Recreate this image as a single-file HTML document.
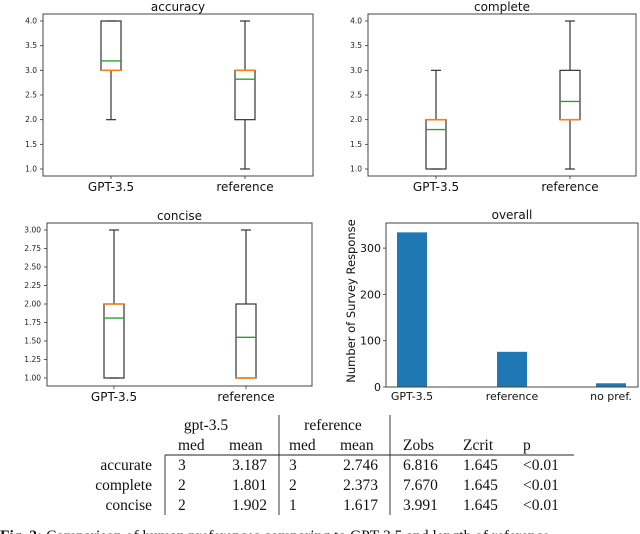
<!DOCTYPE html>
<html><head><meta charset="utf-8">
<style>
html,body{margin:0;padding:0;background:#fff;width:640px;height:534px;overflow:hidden}
svg{display:block}
.mpl{font-family:"DejaVu Sans","Liberation Sans",sans-serif}
.tx{font-family:"Liberation Serif","DejaVu Serif",serif;font-size:15.5px;fill:#111}
</style></head>
<body>
<svg id="fig" width="640" height="534" viewBox="0 0 640 534" xmlns="http://www.w3.org/2000/svg">
</svg>
<script>
// ---- Data ----
const boxCategories = ["GPT-3.5", "reference"];
const accuracyStats = [[2,3,3,4,4,3.19],[1,2,3,3,4,2.82]];   // [wlo,q1,median,q3,whi,mean]
const completeStats = [[1,1,2,2,3,1.80],[1,2,2,3,4,2.37]];
const conciseStats  = [[1,1,2,2,3,1.81],[1,1,1,2,3,1.55]];
const accTicks = [1.0,1.5,2.0,2.5,3.0,3.5,4.0];
const accTickLabels = ["1.0","1.5","2.0","2.5","3.0","3.5","4.0"];
const conTicks = [1.0,1.25,1.5,1.75,2.0,2.25,2.5,2.75,3.0];
const conTickLabels = ["1.00","1.25","1.50","1.75","2.00","2.25","2.50","2.75","3.00"];
const barCategories = ["GPT-3.5","reference","no pref."];
const barValues = [334, 76, 8];
const barTicks = [0,100,200,300];

const NS="http://www.w3.org/2000/svg";
const svg=document.getElementById('fig');
function mk(tag,attrs,parent,text){const e=document.createElementNS(NS,tag);for(const k in attrs)e.setAttribute(k,attrs[k]);if(text!==undefined)e.textContent=text;(parent||svg).appendChild(e);return e;}

function boxPanel(name,title,L,R,T,B,y0,y1,v0,v1,ticks,tickLabels,stats,centers,hw){
  const g=mk('g',{},svg);
  
  
  const y=v=>y0+(v-v0)/(v1-v0)*(y1-y0);
  const t=mk('text',{x:(L+R)/2,y:T-3,'text-anchor':'middle','font-size':'12',class:'mpl',fill:'#111'},g,title);
  
  
  ticks.forEach((v,i)=>{
    mk('line',{x1:L-3,x2:L,y1:y(v),y2:y(v),stroke:'#333','stroke-width':0.8},g);
    const tl=mk('text',{x:L-6,y:y(v)+2.5,'text-anchor':'end','font-size':'7.5',class:'mpl',fill:'#222'},g,tickLabels[i]);
    
    
  });
  stats.forEach((s,i)=>{
    const c=centers[i];
    const bg=mk('g',{},g);
    
    
    const cw=hw/2;
    mk('line',{x1:c,x2:c,y1:y(s[0]),y2:y(s[1]),stroke:'#333','stroke-width':1.2},bg);
    mk('line',{x1:c,x2:c,y1:y(s[3]),y2:y(s[4]),stroke:'#333','stroke-width':1.2},bg);
    mk('line',{x1:c-cw,x2:c+cw,y1:y(s[0]),y2:y(s[0]),stroke:'#333','stroke-width':1.2},bg);
    mk('line',{x1:c-cw,x2:c+cw,y1:y(s[4]),y2:y(s[4]),stroke:'#333','stroke-width':1.2},bg);
    mk('rect',{x:c-hw,y:y(s[3]),width:2*hw,height:Math.max(0.5,y(s[1])-y(s[3])),fill:'none',stroke:'#333','stroke-width':1.2},bg);
    const md=mk('line',{x1:c-hw,x2:c+hw,y1:y(s[2]),y2:y(s[2]),stroke:'#ff7f0e','stroke-width':1.6},bg);
    
    
    const mn=mk('line',{x1:c-hw,x2:c+hw,y1:y(s[5]),y2:y(s[5]),stroke:'#2ca02c','stroke-width':1.4},bg);
    
    
    mk('line',{x1:c,x2:c,y1:B,y2:B+3,stroke:'#333','stroke-width':0.8},g);
    const xl=mk('text',{x:c,y:B+15,'text-anchor':'middle','font-size':'12',class:'mpl',fill:'#111'},g,boxCategories[i]);
    
    
  });
  const fr=mk('rect',{x:L,y:T,width:R-L,height:B-T,fill:'none',stroke:'#444','stroke-width':1},g);
  
  
}

boxPanel('accuracy','accuracy',43,313,14,176,169,21,1,4,accTicks,accTickLabels,accuracyStats,[111,245],10);
boxPanel('complete','complete',368,636,14,176,169,21,1,4,accTicks,accTickLabels,completeStats,[436,570],10);
boxPanel('concise','concise',47,312,223,386,378,230,1,3,conTicks,conTickLabels,conciseStats,[114,246],10);

// bar panel
(function(){
  const L=386,R=638,T=223,B=387;
  const g=mk('g',{},svg);
  
  
  const y=v=>B-v*0.463;
  const xs=[412,512,611], bw=30;
  const t=mk('text',{x:(L+R)/2,y:T-4,'text-anchor':'middle','font-size':'12',class:'mpl',fill:'#111'},g,'overall');
  
  
  barTicks.forEach(v=>{
    mk('line',{x1:L-3,x2:L,y1:y(v),y2:y(v),stroke:'#333','stroke-width':0.8},g);
    const tl=mk('text',{x:L-5,y:y(v)+4,'text-anchor':'end','font-size':'11',class:'mpl',fill:'#111'},g,String(v));
    
    
  });
  barValues.forEach((v,i)=>{
    const b=mk('rect',{x:xs[i]-bw/2,y:y(v),width:bw,height:B-y(v),fill:'#1f77b4'},g);
    
    
    const xl=mk('text',{x:xs[i],y:B+13,'text-anchor':'middle','font-size':'11',class:'mpl',fill:'#111'},g,barCategories[i]);
    
    
  });
  const yl=mk('text',{x:0,y:0,'text-anchor':'middle','font-size':'11.5',class:'mpl',fill:'#111',transform:'translate(355,'+((T+B)/2-4)+') rotate(-90)'},g,'Number of Survey Response');
  
  
  const fr=mk('rect',{x:L,y:T,width:R-L,height:B-T,fill:'none',stroke:'#444','stroke-width':1},g);
  
  
})();

// table
(function(){
  const g=mk('g',{},svg);
  
  
  function T(x,y,s,anchor){mk('text',{x:x,y:y,class:'tx','text-anchor':anchor||'start'},g,s);}
  T(206,430,'gpt-3.5','middle'); T(333,430,'reference','middle');
  T(178,450,'med'); T(229,450,'mean'); T(289,450,'med'); T(340,450,'mean');
  T(403,450,'Zobs'); T(463,450,'Zcrit'); T(523,450,'p');
  const rows=[["accurate","3","3.187","3","2.746","6.816","1.645","<0.01"],
              ["complete","2","1.801","2","2.373","7.670","1.645","<0.01"],
              ["concise","2","1.902","1","1.617","3.991","1.645","<0.01"]];
  rows.forEach((r,i)=>{
    const yy=470+i*20;
    T(152,yy,r[0],'end'); T(178,yy,r[1]); T(267,yy,r[2],'end'); T(289,yy,r[3]); T(378,yy,r[4],'end');
    T(403,yy,r[5]); T(463,yy,r[6]); T(523,yy,r[7]);
  });
  mk('line',{x1:165,x2:574,y1:455,y2:455,stroke:'#222','stroke-width':1},g);
  [[165,455,515],[279,415,515],[390,415,515]].forEach(a=>mk('line',{x1:a[0],x2:a[0],y1:a[1],y2:a[2],stroke:'#222','stroke-width':0.9},g));
})();
const cap=mk('text',{x:0,y:541,class:'tx'},svg);


mk('tspan',{'font-weight':'bold'},cap,'Fig. 2:');
mk('tspan',{},cap,' Comparison of human preferences comparing to GPT-3.5 and length of reference');
</script>
</body></html>
